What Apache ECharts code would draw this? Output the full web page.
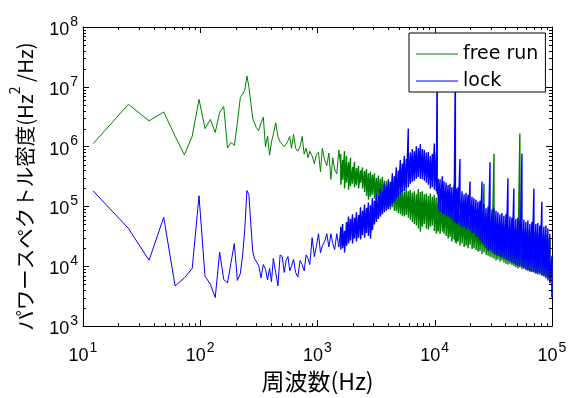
<!DOCTYPE html>
<html lang="ja">
<head>
  <meta charset="utf-8">
  <script src="https://cdn.jsdelivr.net/npm/echarts@6/dist/echarts.min.js"></script>
</head>
<body style="margin: 0; background: #fff">
  <div id="container" style="width: 571px; height: 398px"></div>

  <script type="text/javascript">
    // low frequency part (Hz): FFT bins, then roughly log spaced up to 1.58 kHz
    var freq = [
      12.2, 24.4, 36.6, 48.8, 61, 73.2, 85.4, 97.6, 109.8, 122, 134.2, 146.4, 158.6, 170.8, 183, 195.2, 207.4, 219.6,
      230, 240, 250, 260, 270, 280, 290, 300, 315, 330, 345, 360, 375, 390, 405, 420, 440, 460, 480, 500,
      520, 540, 560, 580, 600, 625, 650, 680, 710, 740, 770, 800, 830, 860, 900, 940, 980, 1020, 1060, 1100,
      1150, 1200, 1250, 1300, 1350, 1400, 1460, 1520, 1580
    ];

    // power spectral density (Hz^2/Hz), free running
    var freeRun = [
      1.12e6, 5.1e6, 2.7e6, 3.8e6, 1.5e6, 7.3e5, 1.5e6, 6.2e6, 2.0e6, 2.85e6, 1.73e6, 3.75e6, 4.7e6, 9.5e5, 1.18e6, 1.04e6, 2.5e6, 6.6e6,
      7.6e6, 8.9e6, 1.52e7, 1.0e7, 5.4e6, 3.0e6, 2.5e6, 2.1e6, 1.85e6, 2.5e6, 3.1e6, 1.0e6, 1.5e6, 7.2e5, 1.2e6, 1.6e6, 2.5e6, 1.48e6, 1.2e6, 1.1e6,
      1.0e6, 1.1e6, 1.25e6, 1.48e6, 9.4e5, 1.6e6, 9.4e5, 8.4e5, 1.0e6, 1.48e6, 7.5e5, 9.4e5, 6.5e5, 8.4e5, 7.0e5, 5.2e5, 7.5e5, 8.0e5, 3.8e5, 9.4e5,
      6.0e5, 4.8e5, 7.8e5, 2.85e5, 6.5e5, 4.2e5, 3.5e5, 8.8e5, 4.5e5
    ];

    // power spectral density (Hz^2/Hz), locked
    var lock = [
      1.82e5, 4.3e4, 1.26e4, 6.6e4, 4.7e3, 6.4e3, 9.2e3, 1.51e5, 6.8e3, 5.0e3, 3.0e3, 1.72e4, 6.0e3, 5.3e3, 1.15e4, 2.4e4, 5.8e3, 7.5e3,
      1.55e4, 4.3e4, 1.85e5, 1.57e5, 5.1e4, 1.8e4, 1.35e4, 1.25e4, 1.03e4, 6.4e3, 1.07e4, 8.9e3, 5.9e3, 9.2e3, 5.5e3, 1.35e4, 7.9e3, 4.7e3, 1.55e4, 1.45e4,
      7.9e3, 1.25e4, 1.45e4, 8.4e3, 1.0e4, 1.3e4, 7.9e3, 6.6e3, 1.25e4, 1.07e4, 8.4e3, 1.55e4, 1.35e4, 1.07e4, 3.0e4, 1.45e4, 2.2e4, 3.5e4, 1.68e4, 2.2e4,
      2.6e4, 3.5e4, 2.1e4, 3.5e4, 2.4e4, 1.9e4, 3.5e4, 2.1e4, 4.5e4
    ];

    // high frequency part: the bins are denser than a pixel, so each grid
    // frequency keeps the highest and lowest bin value around it
    var bandFreq = [
      1580, 1640, 1700, 1770, 1840, 1910, 1990, 2070, 2150, 2240,
      2330, 2420, 2520, 2620, 2720, 2830, 2940, 3060, 3180, 3310,
      3440, 3580, 3720, 3870, 4020, 4180, 4350, 4520, 4700, 4890,
      5090, 5290, 5500, 5720, 5950, 6190, 6440, 6700, 6970, 7250,
      7540, 7840, 8150, 8480, 8820, 9170, 9540, 9920, 10300, 10500,
      10700, 11100, 11600, 12000, 12500, 13000, 13500, 14000, 14600, 15000,
      15300, 15800, 16400, 17100, 17800, 18500, 19200, 20000, 20800, 21600,
      22500, 23400, 24300, 25300, 26300, 27400, 28500, 29600, 30800, 32000,
      33300, 34600, 36000, 37400, 38900, 40500, 42100, 43800, 45500, 47300,
      49200, 51200, 53200, 55400, 57600, 59900, 62300, 64800, 67400, 70100,
      72900, 75800, 78800, 82000, 85300, 88700, 92200, 95900, 100000
    ];

    var freeRunHi = [
      7.5e5, 6.0e5, 8.4e5, 7.0e5, 5.5e5, 6.5e5, 4.6e5, 5.6e5, 4.4e5, 4.8e5,
      4.0e5, 4.5e5, 3.9e5, 4.2e5, 3.6e5, 3.8e5, 3.4e5, 3.6e5, 3.0e5, 3.3e5,
      2.9e5, 3.1e5, 2.7e5, 2.65e5, 2.4e5, 2.5e5, 2.2e5, 2.28e5, 2.0e5, 2.0e5,
      1.8e5, 1.95e5, 1.75e5, 2.0e5, 1.8e5, 1.89e5, 1.7e5, 1.8e5, 1.6e5, 1.95e5,
      1.75e5, 1.8e5, 1.6e5, 1.65e5, 1.5e5, 1.65e5, 1.45e5, 1.57e5, 1.4e5, 9.0e4,
      1.2e5, 1.1e5, 1.2e5, 1.0e5, 1.08e5, 9.7e4, 1.0e5, 9.0e4, 8.6e4, 8.0e4,
      8.3e4, 8.0e4, 7.4e4, 7.6e4, 6.8e4, 7.0e4, 6.5e4, 6.4e4, 6.2e4, 6.4e4,
      5.9e4, 6.0e4, 5.5e4, 5.9e4, 2.4e5, 5.5e4, 5.3e4, 5.1e4, 5.5e4, 7.5e5,
      5.0e4, 5.1e4, 4.8e4, 4.9e4, 4.6e4, 4.8e4, 4.5e4, 4.6e4, 4.4e4, 4.5e4,
      4.2e4, 4.4e4, 1.65e6, 4.1e4, 4.2e4, 3.9e4, 4.0e4, 3.8e4, 4.1e4, 3.7e4,
      3.8e4, 3.5e4, 3.6e4, 3.5e4, 3.3e4, 3.4e4, 3.0e4, 2.9e4, 1.2e4
    ];
    var freeRunLo = [
      2.3e5, 2.8e5, 2.0e5, 2.5e5, 1.9e5, 2.2e5, 2.4e5, 2.1e5, 2.3e5, 2.0e5,
      2.5e5, 2.0e5, 1.75e5, 1.5e5, 1.3e5, 1.45e5, 1.57e5, 1.35e5, 1.27e5, 1.4e5,
      1.2e5, 1.15e5, 1.08e5, 1.0e5, 9.3e4, 8.8e4, 9.7e4, 8.5e4, 8.3e4, 7.8e4,
      7.4e4, 7.0e4, 6.8e4, 7.2e4, 6.5e4, 6.0e4, 5.5e4, 5.1e4, 4.8e4, 4.3e4,
      3.8e4, 4.6e4, 5.1e4, 4.3e4, 4.1e4, 4.6e4, 4.8e4, 3.9e4, 3.5e4, 4.0e4,
      3.8e4, 3.5e4, 3.8e4, 3.5e4, 3.2e4, 2.9e4, 3.1e4, 2.6e4, 2.8e4, 2.5e4,
      2.4e4, 2.6e4, 2.2e4, 2.4e4, 2.1e4, 2.2e4, 2.0e4, 2.3e4, 1.95e4, 2.0e4,
      1.85e4, 1.75e4, 1.8e4, 1.6e4, 1.7e4, 1.55e4, 1.5e4, 1.45e4, 1.4e4, 1.35e4,
      1.25e4, 1.3e4, 1.2e4, 1.25e4, 1.15e4, 1.1e4, 1.07e4, 1.1e4, 1.05e4, 1.0e4,
      9.6e3, 9.2e3, 9.6e3, 8.9e3, 9.2e3, 8.6e3, 8.4e3, 8.0e3, 8.4e3, 7.9e3,
      7.6e3, 7.9e3, 7.3e3, 7.0e3, 6.8e3, 6.6e3, 6.3e3, 5.5e3, 3.1e3
    ];

    var lockHi = [
      4.6e4, 5.1e4, 3.9e4, 5.5e4, 6.8e4, 6.2e4, 7.4e4, 6.5e4, 8.0e4, 7.2e4,
      9.7e4, 8.5e4, 1.08e5, 9.5e4, 1.17e5, 1.05e5, 1.37e5, 1.25e5, 1.63e5, 1.5e5,
      2.0e5, 1.8e5, 2.4e5, 2.2e5, 2.85e5, 2.6e5, 3.6e5, 3.2e5, 4.5e5, 4.0e5,
      6.0e5, 5.2e5, 7.0e5, 6.2e5, 2.0e6, 8.0e5, 9.1e5, 8.4e5, 1.02e6, 9.5e5,
      1.1e6, 9.1e5, 8.8e5, 8.0e5, 8.1e5, 7.0e5, 7.5e5, 1.13e6, 8.0e5, 3.0e7,
      2.9e5, 2.85e5, 3.2e5, 2.65e5, 2.5e5, 2.28e5, 2.4e5, 2.1e5, 2.3e5, 3.0e7,
      2.0e5, 2.1e5, 6.2e5, 1.8e5, 1.6e5, 1.7e5, 1.57e5, 2.6e5, 1.45e5, 1.37e5,
      1.3e5, 1.2e5, 1.25e5, 2.6e5, 1.1e5, 9.3e4, 1.0e5, 5.5e5, 9.0e4, 9.3e4,
      8.5e4, 8.0e4, 7.4e4, 7.8e4, 7.0e4, 7.4e4, 2.95e5, 6.8e4, 6.5e4, 2.0e5,
      6.2e4, 6.5e4, 5.9e4, 7.7e5, 6.0e4, 5.5e4, 5.8e4, 5.1e4, 5.5e4, 2.0e5,
      5.1e4, 5.3e4, 4.8e4, 1.2e5, 4.6e4, 4.8e4, 4.3e4, 3.5e4, 1.5e4
    ];
    var lockLo = [
      1.9e4, 2.0e4, 1.7e4, 2.2e4, 2.4e4, 2.7e4, 2.4e4, 2.9e4, 2.6e4, 3.0e4,
      2.8e4, 3.3e4, 3.0e4, 3.6e4, 3.2e4, 2.9e4, 4.0e4, 5.0e4, 5.5e4, 6.2e4,
      6.8e4, 7.4e4, 8.0e4, 8.5e4, 9.0e4, 1.0e5, 1.08e5, 1.2e5, 1.37e5, 1.45e5,
      1.57e5, 1.75e5, 1.8e5, 2.0e5, 2.1e5, 2.4e5, 2.6e5, 2.7e5, 2.9e5, 3.1e5,
      2.9e5, 2.85e5, 2.7e5, 2.5e5, 2.3e5, 2.0e5, 2.1e5, 1.9e5, 1.8e5, 1.6e5,
      9.0e4, 8.0e4, 7.6e4, 7.4e4, 7.0e4, 6.8e4, 6.5e4, 6.0e4, 5.5e4, 5.5e4,
      5.1e4, 5.3e4, 4.8e4, 4.5e4, 4.6e4, 4.1e4, 4.3e4, 3.9e4, 3.5e4, 3.6e4,
      3.2e4, 3.0e4, 2.7e4, 2.4e4, 2.2e4, 2.0e4, 1.8e4, 1.85e4, 1.7e4, 1.6e4,
      1.55e4, 1.5e4, 1.45e4, 1.4e4, 1.35e4, 1.3e4, 1.25e4, 1.2e4, 1.15e4, 1.1e4,
      1.05e4, 1.0e4, 1.0e4, 9.6e3, 9.2e3, 8.9e3, 8.6e3, 8.4e3, 8.0e3, 7.9e3,
      7.6e3, 7.3e3, 7.6e3, 7.0e3, 6.8e3, 6.3e3, 5.8e3, 5.2e3, 3.0e3
    ];

    // minor tick positions for the log axes
    var xDecades = [10, 100, 1000, 10000];
    var yDecades = [1e3, 1e4, 1e5, 1e6, 1e7];
    var minorSteps = [2, 3, 4, 5, 6, 7, 8, 9];

    var xMin = 10, xMax = 1e5, yMin = 1e3, yMax = 1e8;
    var tickFont = '"Liberation Sans Narrow", "Liberation Sans", Arial, sans-serif';
    var cjkFont = '"Noto Sans CJK JP", sans-serif';

    function pairs(xs, ys) {
      return xs.map(function (x, i) { return [x, ys[i]]; });
    }
    // top then bottom of the band at each grid frequency
    function bandPairs(hi, lo) {
      var out = [];
      bandFreq.forEach(function (f, i) {
        out.push([f, hi[i]]);
        out.push([f, lo[i]]);
      });
      return out;
    }

    var xMinor = [];
    xDecades.forEach(function (d) {
      minorSteps.forEach(function (m) { xMinor.push([d * m, yMin]); });
    });
    var yMinor = [];
    yDecades.forEach(function (d) {
      minorSteps.forEach(function (m) { yMinor.push([xMin, d * m]); });
    });

    function powLabel(v) {
      var e = Math.round(Math.log10(v));
      return '{b|10}{s|' + e + '}';
    }

    var labelRich = {
      b: { fontFamily: tickFont, fontSize: 18, color: '#000', lineHeight: 24, verticalAlign: 'bottom' },
      s: { fontFamily: tickFont, fontSize: 14, color: '#000', lineHeight: 24, verticalAlign: 'top', padding: [0, 0, 0, 1] }
    };

    var dom = document.getElementById('container');
    var myChart = echarts.init(dom, null, { renderer: 'canvas' });

    var frameAxisX = {
      type: 'log', logBase: 10, min: xMin, max: xMax,
      axisLine: { show: true, onZero: false, lineStyle: { color: '#000', width: 1 } },
      axisTick: { show: true, inside: true, length: 6, lineStyle: { color: '#000' } },
      splitLine: { show: false }
    };
    var frameAxisY = {
      type: 'log', logBase: 10, min: yMin, max: yMax,
      axisLine: { show: true, onZero: false, lineStyle: { color: '#000', width: 1 } },
      axisTick: { show: true, inside: true, length: 6, lineStyle: { color: '#000' } },
      splitLine: { show: false }
    };

    function lineSeries(name, data, color, width, z) {
      return {
        name: name,
        type: 'line',
        data: data,
        symbol: 'none',
        showSymbol: false,
        sampling: 'none',
        color: color,
        lineStyle: { color: color, width: width },
        z: z
      };
    }

    var option = {
      animation: false,
      backgroundColor: '#fff',
      grid: { left: 82, right: 19, top: 27, bottom: 62, containLabel: false },
      xAxis: [
        Object.assign({}, frameAxisX, {
          position: 'bottom',
          name: '周波数(Hz)',
          nameLocation: 'middle',
          nameGap: 41,
          nameTextStyle: { fontFamily: cjkFont, fontSize: 23, color: '#000' },
          axisLabel: {
            margin: 15,
            formatter: powLabel,
            rich: labelRich
          }
        }),
        Object.assign({}, frameAxisX, { position: 'top', axisLabel: { show: false } })
      ],
      yAxis: [
        Object.assign({}, frameAxisY, {
          position: 'left',
          name: '{a|パワースペクトル密度(Hz}{s|2}{a| /Hz)}',
          nameLocation: 'middle',
          nameGap: 48,
          nameTextStyle: {
            padding: [0, 20, 0, 0],
            rich: {
              a: { fontFamily: cjkFont, fontSize: 20.5, color: '#000', lineHeight: 27, verticalAlign: 'bottom' },
              s: { fontFamily: cjkFont, fontSize: 14, color: '#000', lineHeight: 27, verticalAlign: 'top' }
            }
          },
          axisLabel: {
            margin: 5,
            formatter: powLabel,
            rich: labelRich
          }
        }),
        Object.assign({}, frameAxisY, { position: 'right', axisLabel: { show: false } })
      ],
      legend: {
        data: ['free run', 'lock'],
        orient: 'vertical',
        left: 409,
        top: 33,
        backgroundColor: '#fff',
        borderColor: '#000',
        borderWidth: 1,
        borderRadius: 0,
        padding: [11, 7, 1, 7],
        icon: 'path://M0,0 H42 V1.2 H0 Z',
        itemWidth: 42,
        itemHeight: 20,
        itemGap: 7,
        textStyle: { fontFamily: '"DejaVu Sans", sans-serif', fontSize: 19, color: '#000', lineHeight: 20 }
      },
      series: [
        lineSeries('free run', pairs(freq, freeRun), '#008000', 1, 2),
        lineSeries('free run', bandPairs(freeRunHi, freeRunLo), '#008000', 1.4, 2),
        lineSeries('lock', pairs(freq, lock), '#0000ff', 1, 3),
        lineSeries('lock', bandPairs(lockHi, lockLo), '#0000ff', 1.4, 3),
        {
          // minor ticks on bottom and top edges
          type: 'custom',
          silent: true,
          data: xMinor,
          encode: { x: 0, y: 1 },
          clip: false,
          z: 5,
          renderItem: function (params, api) {
            var b = api.coord([api.value(0), yMin]);
            var t = api.coord([api.value(0), yMax]);
            var x = Math.round(b[0]) + 0.5;
            return {
              type: 'group',
              children: [
                { type: 'line', shape: { x1: x, y1: b[1], x2: x, y2: b[1] - 3 }, style: { stroke: '#000', lineWidth: 1 } },
                { type: 'line', shape: { x1: x, y1: t[1], x2: x, y2: t[1] + 3 }, style: { stroke: '#000', lineWidth: 1 } }
              ]
            };
          }
        },
        {
          // minor ticks on left and right edges
          type: 'custom',
          silent: true,
          data: yMinor,
          encode: { x: 0, y: 1 },
          clip: false,
          z: 5,
          renderItem: function (params, api) {
            var l = api.coord([xMin, api.value(1)]);
            var r = api.coord([xMax, api.value(1)]);
            var y = Math.round(l[1]) + 0.5;
            return {
              type: 'group',
              children: [
                { type: 'line', shape: { x1: l[0], y1: y, x2: l[0] + 3, y2: y }, style: { stroke: '#000', lineWidth: 1 } },
                { type: 'line', shape: { x1: r[0], y1: y, x2: r[0] - 3, y2: y }, style: { stroke: '#000', lineWidth: 1 } }
              ]
            };
          }
        }
      ]
    };

    myChart.setOption(option);
    window.addEventListener('resize', myChart.resize);
  </script>
</body>
</html>
